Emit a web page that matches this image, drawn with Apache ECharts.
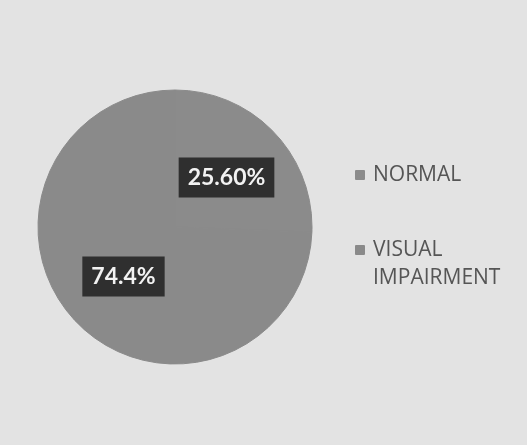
<!DOCTYPE html>
<html>
<head>
<meta charset="utf-8">
<script src="https://cdn.jsdelivr.net/npm/echarts@6/dist/echarts.min.js"></script>
<style>
  html, body { margin: 0; padding: 0; background: #e3e3e3; }
  #chart { width: 527px; height: 445px; }
</style>
</head>
<body>
<div id="chart"></div>
<script>
// Share of participants by vision status
const categories = ['NORMAL', 'VISUAL IMPAIRMENT'];
const shares = [25.6, 74.4];
const shareLabels = ['25.60%', '74.4%'];
const sliceColors = ['#8b8b8b', '#8a8a8a'];

const chart = echarts.init(document.getElementById('chart'));

// Multi-word legend names wrap onto two lines; a blank leading line keeps
// the square marker level with the first word.
function legendText(name) {
  const words = name.split(' ');
  return words.length > 1 ? '\n' + words.join('\n') : name;
}

chart.setOption({
  backgroundColor: '#e3e3e3',
  animation: false,
  legend: {
    orient: 'vertical',
    left: 350,
    top: 156,
    itemGap: 19,
    itemWidth: 8,
    itemHeight: 8,
    icon: 'rect',
    textStyle: {
      fontFamily: '"Open Sans", Lato, sans-serif',
      fontSize: 21,
      color: '#555555',
      lineHeight: 28,
      padding: [0, 0, 0, 4]
    },
    formatter: legendText,
    data: categories
  },
  series: [{
    type: 'pie',
    center: [175, 227],
    radius: [0, 137],
    startAngle: 90,
    clockwise: true,
    label: {
      position: 'inside',
      formatter: p => shareLabels[p.dataIndex],
      color: '#f2f2f2',
      fontFamily: 'Lato, "Open Sans", sans-serif',
      fontWeight: 'bold',
      fontSize: 23,
      backgroundColor: '#2f2f2f',
      padding: [9, 9, 8, 9]
    },
    labelLine: { show: false },
    emphasis: { disabled: true },
    data: categories.map((name, i) => ({
      name,
      value: shares[i],
      // slice outline in its own fill so the seam between slices stays soft
      itemStyle: { color: sliceColors[i], borderColor: sliceColors[i], borderWidth: 1 }
    }))
  }]
});
</script>
</body>
</html>
